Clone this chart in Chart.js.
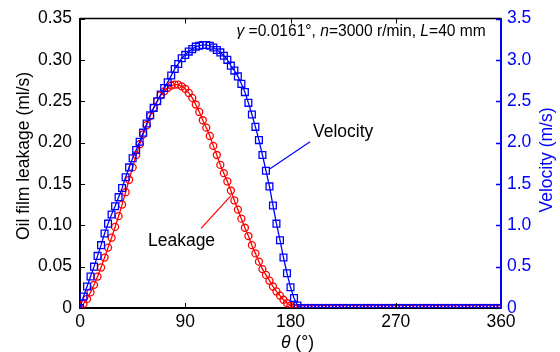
<!DOCTYPE html>
<html>
<head>
    <meta charset="UTF-8">
    <title>Oil Film Leakage and Velocity</title>
    <script src="https://cdn.jsdelivr.net/npm/chart.js"></script>
    <style>
        body { margin: 0; background: #fff; }
    </style>
</head>
<body>
    <canvas id="myChart" width="560" height="352"></canvas>

    <script>
        // crank angle, every 3 degrees
        const theta = [];
        for (let a = 0; a <= 360; a += 3) theta.push(a);

        // oil film leakage (ml/s)
        const leakage = [
            0, 0.005, 0.011, 0.019, 0.028, 0.038, 0.049, 0.061, 0.073, 0.085,
            0.098, 0.111, 0.125, 0.140, 0.155, 0.170, 0.185, 0.198, 0.210, 0.221,
            0.232, 0.242, 0.250, 0.257, 0.262, 0.266, 0.269, 0.270, 0.270, 0.268,
            0.265, 0.260, 0.254, 0.246, 0.237, 0.227, 0.218, 0.208, 0.196, 0.185,
            0.173, 0.163, 0.153, 0.142, 0.130, 0.119, 0.108, 0.097, 0.087, 0.076,
            0.066, 0.056, 0.047, 0.040, 0.033, 0.026, 0.020, 0.015, 0.010, 0.006,
            0.003, 0
        ];

        // piston velocity (m/s)
        const velocity = [
            0, 0.14, 0.26, 0.38, 0.50, 0.63, 0.76, 0.90, 1.02, 1.13,
            1.23, 1.34, 1.45, 1.58, 1.70, 1.81, 1.91, 2.01, 2.12, 2.23,
            2.33, 2.42, 2.50, 2.58, 2.66, 2.73, 2.81, 2.89, 2.95, 3.02,
            3.06, 3.10, 3.13, 3.16, 3.17, 3.18, 3.18, 3.17, 3.15, 3.12,
            3.09, 3.05, 3.00, 2.93, 2.87, 2.80, 2.71, 2.61, 2.48, 2.34,
            2.19, 2.03, 1.85, 1.66, 1.47, 1.24, 1.02, 0.82, 0.61, 0.42,
            0.25, 0.12, 0.03, 0
        ];

        const xTicks = [0, 90, 180, 270, 360];
        const leakTicks = [0, 0.05, 0.10, 0.15, 0.20, 0.25, 0.30, 0.35];
        const velTicks = [0, 0.5, 1.0, 1.5, 2.0, 2.5, 3.0, 3.5];

        const toPoints = (vals) => theta.map((t, i) => ({ x: t, y: i < vals.length ? vals[i] : 0 }));

        const FONT = 'Liberation Sans, Arial, Helvetica, sans-serif';
        const SIZE = 17.5;
        const NOTE_SIZE = 15.6;
        const BLUE = '#0000ff';
        const RED = '#ff0000';

        // frame, inward ticks, titles and the text notes
        const decor = {
            id: 'decor',
            afterDraw(chart) {
                const ctx = chart.ctx;
                const area = chart.chartArea;
                const x = chart.scales.x, y = chart.scales.y, y1 = chart.scales.y1;
                const tl = 5;
                ctx.save();

                // top edge
                ctx.strokeStyle = '#000';
                ctx.lineWidth = 1.5;
                ctx.beginPath();
                ctx.moveTo(area.left, area.top);
                ctx.lineTo(area.right, area.top);
                ctx.stroke();

                ctx.lineWidth = 1;
                ctx.beginPath();
                xTicks.slice(1, -1).forEach(v => {
                    const px = Math.round(x.getPixelForValue(v)) + 0.5;
                    ctx.moveTo(px, area.bottom); ctx.lineTo(px, area.bottom - tl);
                    ctx.moveTo(px, area.top); ctx.lineTo(px, area.top + tl);
                });
                leakTicks.slice(1).forEach(v => {
                    const py = Math.round(y.getPixelForValue(v)) + 0.5;
                    ctx.moveTo(area.left, py); ctx.lineTo(area.left + tl, py);
                });
                ctx.stroke();

                ctx.strokeStyle = BLUE;
                ctx.lineWidth = 1.5;
                ctx.beginPath();
                velTicks.slice(1).forEach(v => {
                    const py = Math.round(y1.getPixelForValue(v)) + 0.5;
                    ctx.moveTo(area.right, py); ctx.lineTo(area.right - tl, py);
                });
                ctx.stroke();

                // axis titles
                ctx.font = SIZE + 'px ' + FONT;
                ctx.textAlign = 'center';
                ctx.textBaseline = 'middle';
                ctx.fillStyle = '#000';
                ctx.save();
                ctx.translate(24, 156);
                ctx.rotate(-Math.PI / 2);
                ctx.fillText('Oil film leakage (ml/s)', 0, 0);
                ctx.restore();

                ctx.fillStyle = BLUE;
                ctx.save();
                ctx.translate(547, 160);
                ctx.rotate(-Math.PI / 2);
                ctx.fillText('Velocity (m/s)', 0, 0);
                ctx.restore();

                const runs = (parts, right, midY, color, size) => {
                    ctx.fillStyle = color;
                    ctx.textAlign = 'left';
                    let w = 0;
                    parts.forEach(p => {
                        ctx.font = (p[1] ? 'italic ' : '') + size + 'px ' + FONT;
                        w += ctx.measureText(p[0]).width;
                    });
                    let cx = right - w;
                    parts.forEach(p => {
                        ctx.font = (p[1] ? 'italic ' : '') + size + 'px ' + FONT;
                        ctx.fillText(p[0], cx, midY);
                        cx += ctx.measureText(p[0]).width;
                    });
                };

                // x title, centred near 298
                const xt = [['\u03b8', true], [' (\u00b0)', false]];
                let xw = 0;
                xt.forEach(p => { ctx.font = (p[1] ? 'italic ' : '') + SIZE + 'px ' + FONT; xw += ctx.measureText(p[0]).width; });
                runs(xt, x.getPixelForValue(186) + xw / 2, 343, '#000', SIZE);

                // conditions note
                runs([['\u03b3', true], [' =0.0161\u00b0, ', false], ['n', true],
                      ['=3000 r/min, ', false], ['L', true], ['=40 mm', false]],
                     x.getPixelForValue(347), y.getPixelForValue(0.3345), '#000', NOTE_SIZE);

                // curve labels with leader lines
                ctx.font = SIZE + 'px ' + FONT;
                ctx.textAlign = 'left';
                ctx.fillStyle = '#000';
                ctx.fillText('Velocity', x.getPixelForValue(199.2), y.getPixelForValue(0.213));
                ctx.fillText('Leakage', x.getPixelForValue(58.1), y.getPixelForValue(0.0806));

                ctx.lineWidth = 1.2;
                ctx.strokeStyle = BLUE;
                ctx.beginPath();
                ctx.moveTo(x.getPixelForValue(162.5), y.getPixelForValue(0.1684));
                ctx.lineTo(x.getPixelForValue(196.7), y.getPixelForValue(0.2009));
                ctx.stroke();
                ctx.strokeStyle = RED;
                ctx.beginPath();
                ctx.moveTo(x.getPixelForValue(103.5), y.getPixelForValue(0.0962));
                ctx.lineTo(x.getPixelForValue(129.1), y.getPixelForValue(0.1359));
                ctx.stroke();

                ctx.restore();
            }
        };

        Chart.defaults.font.family = FONT;
        Chart.defaults.font.size = SIZE;

        const ctx = document.getElementById('myChart').getContext('2d');
        new Chart(ctx, {
            type: 'line',
            data: {
                datasets: [{
                    label: 'Velocity',
                    data: toPoints(velocity),
                    yAxisID: 'y1',
                    borderColor: BLUE,
                    borderWidth: 1.3,
                    pointStyle: 'rect',
                    pointRadius: 4.8,
                    pointBorderColor: BLUE,
                    pointBackgroundColor: 'rgba(0,0,0,0)',
                    pointBorderWidth: 1.3,
                    tension: 0,
                    order: 0
                }, {
                    label: 'Leakage',
                    data: toPoints(leakage),
                    yAxisID: 'y',
                    borderColor: RED,
                    borderWidth: 1.3,
                    pointStyle: 'circle',
                    pointRadius: 3.5,
                    pointBorderColor: RED,
                    pointBackgroundColor: 'rgba(0,0,0,0)',
                    pointBorderWidth: 1.3,
                    tension: 0,
                    order: 1
                }]
            },
            options: {
                responsive: false,
                animation: false,
                layout: { padding: { top: 17, left: 0, right: 0, bottom: 0 } },
                plugins: {
                    legend: { display: false },
                    tooltip: { enabled: false }
                },
                scales: {
                    x: {
                        type: 'linear',
                        min: 0, max: 360,
                        afterBuildTicks: s => { s.ticks = xTicks.map(v => ({ value: v })); },
                        afterFit: s => { s.height = 44; },
                        ticks: { color: '#000', padding: 4, maxRotation: 0 },
                        grid: { drawOnChartArea: false, drawTicks: false },
                        border: { color: '#000', width: 2 }
                    },
                    y: {
                        position: 'left',
                        min: 0, max: 0.35,
                        afterBuildTicks: s => { s.ticks = leakTicks.map(v => ({ value: v })); },
                        afterFit: s => { s.width = 80; },
                        ticks: {
                            color: '#000', padding: 8,
                            callback: v => v === 0 ? '0' : v.toFixed(2)
                        },
                        grid: { drawOnChartArea: false, drawTicks: false },
                        border: { color: '#000', width: 2 }
                    },
                    y1: {
                        position: 'right',
                        min: 0, max: 3.5,
                        afterBuildTicks: s => { s.ticks = velTicks.map(v => ({ value: v })); },
                        afterFit: s => { s.width = 59; },
                        ticks: {
                            color: BLUE, padding: 6,
                            callback: v => v === 0 ? '0' : v.toFixed(1)
                        },
                        grid: { drawOnChartArea: false, drawTicks: false },
                        border: { color: BLUE, width: 2 }
                    }
                }
            },
            plugins: [decor]
        });
    </script>
</body>
</html>
